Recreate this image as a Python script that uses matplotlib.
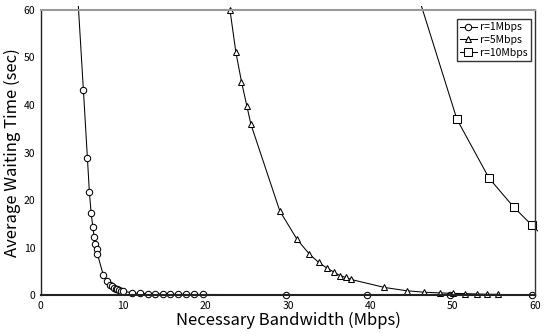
import matplotlib
matplotlib.use("Agg")
import matplotlib.pyplot as plt
from matplotlib.patches import Rectangle

plt.rcParams['font.family'] = ['Noto Sans CJK JP', 'DejaVu Sans']

# r = 1 Mbps (first point lies above the plot and is clipped)
x_r1 = [3.6, 5.16, 5.65, 5.89, 6.1, 6.3, 6.46, 6.59, 6.79, 6.87, 7.56, 8.0,
        8.33, 8.6, 8.85, 9.1, 9.3, 9.5, 9.7, 9.95,
        11.1, 12.0, 13.0, 13.9, 14.8, 15.7, 16.6, 17.6, 18.6, 19.7,
        29.7, 39.6, 49.7, 59.6]
y_r1 = [88.0, 43.2, 28.8, 21.6, 17.3, 14.4, 12.3, 10.8, 9.6, 8.6, 4.3, 2.9,
        2.2, 1.8, 1.55, 1.35, 1.2, 1.05, 0.95, 0.85,
        0.45, 0.35, 0.3, 0.25, 0.22, 0.2, 0.18, 0.16, 0.14, 0.12,
        0.06, 0.04, 0.03, 0.02]

# r = 5 Mbps
x_r5 = [22.96, 23.66, 24.35, 25.0, 25.5, 29.0, 31.1, 32.6, 33.7, 34.7, 35.6,
        36.3, 37.0, 37.6, 41.7, 44.4, 46.5, 48.4, 50.0, 51.5, 52.9, 54.2, 55.5]
y_r5 = [59.9, 51.2, 44.9, 39.8, 35.9, 17.7, 11.7, 8.6, 6.9, 5.7, 4.8,
        4.1, 3.7, 3.3, 1.6, 0.9, 0.6, 0.45, 0.35, 0.3, 0.22, 0.17, 0.15]

# r = 10 Mbps (first and last points lie outside the plot and are clipped)
x_r10 = [45.8, 50.5, 54.4, 57.4, 59.6, 62.5]
y_r10 = [63.0, 37.0, 24.6, 18.5, 14.7, 9.8]

labels = ['r=1Mbps', 'r=5Mbps', 'r=10Mbps']

fig = plt.figure(figsize=(5.45, 3.33), dpi=100)
ax = fig.add_axes([0.075, 0.114, 0.907, 0.856])

clip = Rectangle((-0.01, -0.02), 1.016, 1.035, transform=ax.transAxes,
                 facecolor='none', edgecolor='none')
ax.add_patch(clip)

style = dict(color='black', lw=0.75, mfc='white', mec='black', mew=0.75)
l1, = ax.plot(x_r1, y_r1, marker='o', ms=4.6, label=labels[0], **style)
l2, = ax.plot(x_r5, y_r5, marker='^', ms=4.6, label=labels[1], **style)
l3, = ax.plot(x_r10, y_r10, marker='s', ms=5.2, label=labels[2], **style)
for ln in (l1, l2, l3):
    ln.set_clip_path(clip)

ax.set_xlim(0, 60)
ax.set_ylim(0, 60)
ax.set_xticks(range(0, 61, 10))
ax.set_yticks(range(0, 61, 10))
ax.tick_params(length=0, labelsize=7.5, pad=4)

ax.spines['top'].set_color('#9a9a9a')
ax.spines['top'].set_linewidth(1.5)
ax.spines['bottom'].set_color('#222222')
ax.spines['bottom'].set_linewidth(1.5)
ax.spines['left'].set_color('#222222')
ax.spines['left'].set_linewidth(1.0)
ax.spines['right'].set_color('#333333')
ax.spines['right'].set_linewidth(1.0)

ax.set_xlabel('Necessary Bandwidth (Mbps)', fontsize=12, labelpad=1)
ax.set_ylabel('Average Waiting Time (sec)', fontsize=12, labelpad=2)

leg = ax.legend(loc='upper right', bbox_to_anchor=(0.995, 0.975), fontsize=7.5,
                frameon=True, fancybox=False, edgecolor='black',
                handlelength=1.6, handletextpad=0.3, borderpad=0.3,
                labelspacing=0.25, borderaxespad=0.2)
leg.get_frame().set_linewidth(1.0)

fig.savefig('out.png', dpi=100)
